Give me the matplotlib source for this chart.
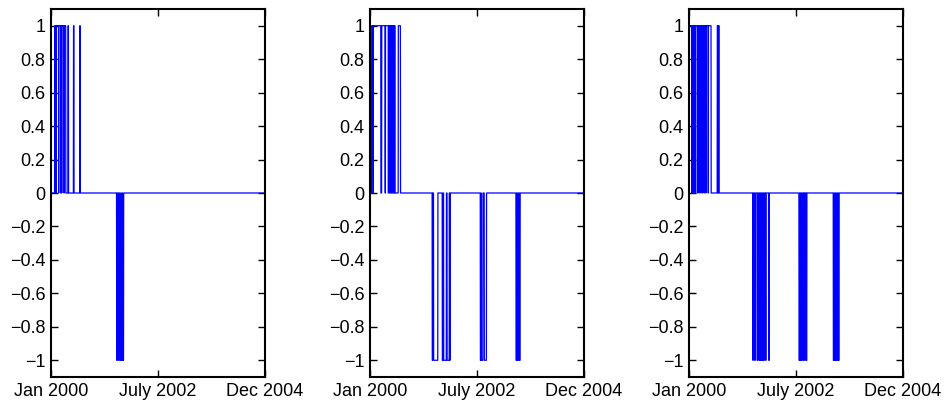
import numpy as np
import matplotlib
matplotlib.use('Agg')
import matplotlib.pyplot as plt

plt.rcParams['font.family'] = ['Liberation Sans', 'DejaVu Sans']

# trading days from Jan 2000 to Dec 2004
n_days = 1255
date_labels = ['Jan 2000', 'July 2002', 'Dec 2004']

# signal runs, (first day, last day): +1 = long, -1 = short
sig1_up = [(22, 25), (27, 29), (31, 44), (46, 57), (59, 62), (64, 76), (78, 86),
           (100, 102), (132, 134), (169, 171)]
sig1_down = [(385, 387), (394, 397), (404, 408), (410, 414), (416, 419), (421, 425)]

sig2_up = [(10, 18), (20, 63), (69, 88), (91, 107), (109, 112), (114, 117),
           (119, 122), (124, 127), (129, 132), (134, 137), (139, 142), (144, 146),
           (166, 178)]
sig2_down = [(365, 367), (373, 397), (424, 428), (432, 447), (452, 464), (467, 469),
             (647, 650), (652, 661), (670, 682),
             (856, 859), (861, 864), (866, 869), (871, 874), (876, 879)]

sig3_up = [(1, 15), (17, 24), (26, 34), (36, 48), (50, 58), (60, 69), (71, 79),
           (81, 89), (91, 99), (101, 112), (114, 129), (166, 169), (173, 176)]
sig3_down = [(0, 0), (374, 376), (385, 388), (399, 402), (410, 413), (416, 419),
             (421, 424), (427, 430), (433, 436), (438, 441), (449, 451), (467, 470),
             (645, 648), (653, 656), (660, 663), (670, 672), (679, 681), (688, 690),
             (846, 849), (851, 854), (856, 859), (861, 864), (866, 869), (871, 874),
             (876, 879)]


def build_signal(up, down):
    s = np.zeros(n_days)
    for a, b in up:
        s[a:b + 1] = 1
    for a, b in down:
        s[a:b + 1] = -1
    return s


signals = [build_signal(sig1_up, sig1_down),
           build_signal(sig2_up, sig2_down),
           build_signal(sig3_up, sig3_down)]

days = np.arange(n_days)
yticks = np.round(np.arange(-1, 1.01, 0.2), 1)
ylabels = [('%g' % (v + 0.0)).replace('-', '\u2212') if v != 0 else '0' for v in yticks]

fig = plt.figure(figsize=(9.45, 4.01), dpi=100)
lefts = [51, 370, 689]

for left, s in zip(lefts, signals):
    ax = fig.add_axes([left / 945, 24 / 401, 214 / 945, 368 / 401])
    ax.plot(days, s, color='blue', linewidth=0.9)
    ax.set_xlim(0, n_days - 1)
    ax.set_ylim(-1.1, 1.1)
    ax.set_xticks([0, (n_days - 1) / 2, n_days - 1])
    ax.set_xticklabels(date_labels)
    ax.set_yticks(yticks)
    ax.set_yticklabels(ylabels)
    ax.tick_params(direction='in', top=True, right=True, length=5, width=1,
                   labelsize=13, pad=4)
    for sp in ax.spines.values():
        sp.set_linewidth(1.5)

fig.savefig('out.png', dpi=100)
